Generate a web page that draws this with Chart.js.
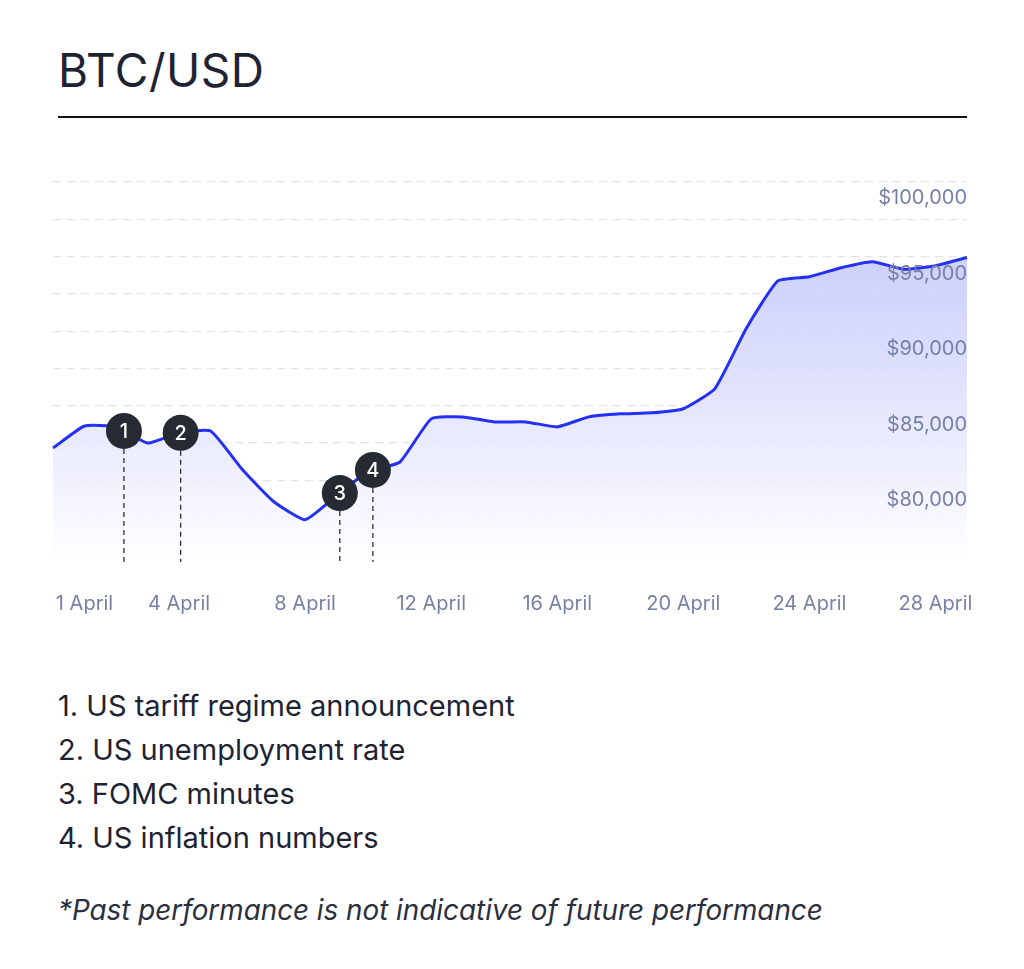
<!DOCTYPE html>
<html>
<head>
<meta charset="utf-8">
<script src="https://cdn.jsdelivr.net/npm/chart.js@4"></script>
<style>
  body { margin: 0; background: #fff; font-family: Inter, "Noto Sans", sans-serif; color: #1e2333; }
  .page { position: relative; width: 1024px; height: 969px; }
  h1 { position: absolute; left: 58px; top: 42px; margin: 0; font-size: 46px; font-weight: 400; letter-spacing: 0.5px; }
  .rule { position: absolute; left: 58px; top: 116px; width: 909px; height: 2px; background: #111; }
  .chart { position: absolute; left: 31px; top: 170px; width: 958px; height: 468px; }
  ol { position: absolute; left: 58px; top: 684px; margin: 0; padding: 0; list-style: none; font-size: 29px; line-height: 44px; }
  .note { position: absolute; left: 58px; top: 893px; font-size: 27.8px; font-style: italic; color: #2a2f3f; }
</style>
</head>
<body>
<div class="page">
  <h1>BTC/USD</h1>
  <div class="rule"></div>
  <div class="chart"><canvas id="btcChart"></canvas></div>
  <ol>
    <li>1. US tariff regime announcement</li>
    <li>2. US unemployment rate</li>
    <li>3. FOMC minutes</li>
    <li>4. US inflation numbers</li>
  </ol>
  <div class="note">*Past performance is not indicative of future performance</div>
</div>
<script>
/* ================= DATA ================= */
const days = ["31 March","1 April","2 April","3 April","4 April","5 April","6 April","7 April","8 April","9 April",
  "10 April","11 April","12 April","13 April","14 April","15 April","16 April","17 April","18 April","19 April",
  "20 April","21 April","22 April","23 April","24 April","25 April","26 April","27 April","28 April","29 April"];
const prices = [83470,84930,84870,83800,84470,84600,82070,79930,78730,80330,
  81930,82530,85400,85530,85200,85200,84870,85530,85730,85800,
  86070,87400,91400,94530,94800,95400,95800,95300,95530,96070];
const shownLabels = ["1 April","4 April","8 April","12 April","16 April","20 April","24 April","28 April"];
const yTicks = [80000, 85000, 90000, 95000, 100000];
const gridValues = [101070,98600,96130,93670,91200,88730,86270,83800,81330,78870,76400];

// events: label number, position as day index
const eventNums = ["1","2","3","4"];
const eventPos = [2.25, 4.05, 9.1, 10.15];

/* ================= EVENT MARKERS ================= */
const eventPlugin = {
  id: "events",
  afterDatasetsDraw(chart) {
    const { ctx, scales: { x, y }, chartArea } = chart;
    eventPos.forEach((p, i) => {
      const lo = Math.floor(p), f = p - lo;
      const v = prices[lo] + (prices[lo + 1] - prices[lo]) * f;
      const px = x.getPixelForValue(p);
      const py = y.getPixelForValue(v);
      ctx.save();
      ctx.strokeStyle = "#2b2f3a";
      ctx.lineWidth = 1.3;
      ctx.setLineDash([5, 4]);
      ctx.beginPath();
      ctx.moveTo(px, py);
      ctx.lineTo(px, chartArea.bottom);
      ctx.stroke();
      ctx.setLineDash([]);
      ctx.fillStyle = "#262a33";
      ctx.beginPath();
      ctx.arc(px, py, 18, 0, Math.PI * 2);
      ctx.fill();
      ctx.fillStyle = "#fff";
      ctx.font = "500 20px Inter";
      ctx.textAlign = "center";
      ctx.textBaseline = "middle";
      ctx.fillText(eventNums[i], px, py + 1);
      ctx.restore();
    });
  }
};

/* ================= CHART ================= */
const ctxEl = document.getElementById("btcChart");
new Chart(ctxEl, {
  type: "line",
  data: {
    labels: days,
    datasets: [{
      data: prices,
      borderColor: "#2431f0",
      borderWidth: 3,
      pointRadius: 0,
      tension: 0.15,
      fill: "start",
      backgroundColor: (c) => {
        const a = c.chart.chartArea;
        if (!a) return "rgba(200,204,250,0.6)";
        const g = c.chart.ctx.createLinearGradient(0, a.top + 80, 0, a.bottom);
        g.addColorStop(0, "rgba(196,200,250,0.85)");
        g.addColorStop(1, "rgba(255,255,255,0.9)");
        return g;
      }
    }]
  },
  options: {
    responsive: true,
    maintainAspectRatio: false,
    animation: false,
    layout: { padding: 0 },
    plugins: { legend: { display: false }, tooltip: { enabled: false } },
    scales: {
      x: {
        offset: false,
        grid: { display: false },
        border: { display: false },
        ticks: {
          autoSkip: false, maxRotation: 0, padding: 22,
          color: "#7880a6", font: { family: "Inter", size: 20 },
          callback: (v, i) => shownLabels.includes(days[i]) ? days[i] : ""
        }
      },
      y: {
        position: "right",
        min: 75930, max: 101070,
        grid: { display: false },
        border: { display: false },
        afterFit: (s) => { s.width = 0; },
        afterBuildTicks: (s) => { s.ticks = yTicks.map(v => ({ value: v })); },
        ticks: {
          mirror: true, padding: 0, z: 1,
          color: "#7880a6", font: { family: "Inter", size: 20 },
          callback: (v) => "$" + v.toLocaleString("en-US")
        }
      },
      grid2: {
        position: "left",
        min: 75930, max: 101070,
        afterFit: (s) => { s.width = 0; },
        afterBuildTicks: (s) => { s.ticks = gridValues.map(v => ({ value: v })); },
        ticks: { display: false },
        grid: { color: "#e2e4ea", lineWidth: 1.2, tickLength: 0 },
        border: { dash: [8, 6], display: false }
      }
    }
  },
  plugins: [eventPlugin]
});
</script>
</body>
</html>
